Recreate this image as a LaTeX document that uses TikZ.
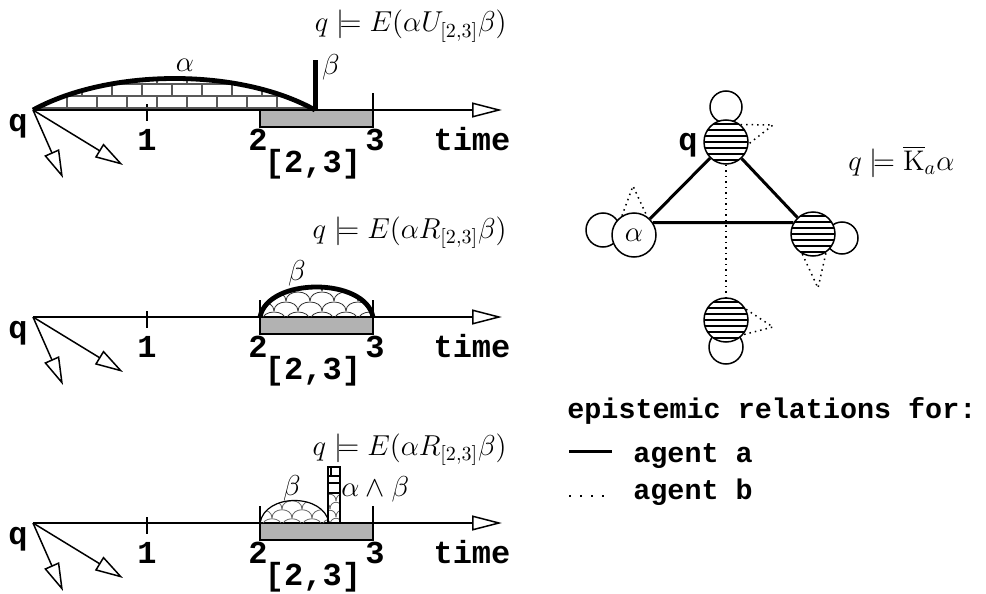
\documentclass[tikz,border=0pt]{standalone}
\usepackage{fontspec}
\setmonofont{Liberation Mono}
\usetikzlibrary{arrows.meta}
\begin{document}
\begin{tikzpicture}[x=0.5pt,y=-0.5pt,
  mono/.style={font=\fontsize{16}{19}\selectfont\ttfamily\bfseries, inner sep=0pt, anchor=base},
  legendtxt/.style={font=\fontsize{14.2}{17}\selectfont\ttfamily\bfseries, inner sep=0pt, anchor=base west},
  mathlbl/.style={font=\fontsize{14.2}{17}\selectfont, inner sep=0pt},
  axisline/.style={line width=1pt, -{Triangle[open,length=15pt,width=7.5pt,line width=0.75pt]}},
  branch/.style={line width=0.75pt, -{Triangle[open,length=14pt,width=8pt]}},
  tickline/.style={line width=1pt},
  interval/.style={draw, line width=1pt, fill=black!30},
  brick/.style={line width=0.8pt, black!65},
  fishscale/.style={line width=0.4pt, black!80},
  state/.style={circle, draw, line width=0.75pt, minimum size=22pt, inner sep=0pt, fill=white, font=\fontsize{14.2}{17}\selectfont},
  hatched/.style={state, path picture={
     \foreach \k in {-9,-6,...,9}{
       \draw[line width=1.1pt] ([yshift=\k*1pt]path picture bounding box.west) -- ([yshift=\k*1pt]path picture bounding box.east);}}},
  selfloop/.style={line width=0.75pt},
  relA/.style={line width=1.5pt},
  relB/.style={line width=0.75pt, dotted}
]
\useasboundingbox (0,0) rectangle (986,594);

% ---------- common parts of the three time lines ----------
\foreach \p/\Y in {1/110,2/317,3/523}{
  \coordinate (q\p) at (33,\Y);
  \coordinate (e\p) at (502,\Y);
  \coordinate (ba\p) at (63,\Y+68);
  \coordinate (bb\p) at (123,\Y+55);
  \draw[interval] (260,\Y) rectangle (373,\Y+17);
  \draw[tickline] (147,\Y-6) -- (147,\Y+11);
  \draw[tickline] (373,\Y-17) -- (373,\Y);
  \draw[axisline] (q\p) -- (e\p);
  \draw[branch] (q\p) -- (ba\p);
  \draw[branch] (q\p) -- (bb\p);
  \node[mono] (one\p) at (147,\Y+40) {1};
  \node[mono] (two\p) at (258,\Y+40) {2};
  \node[mono] (three\p) at (375,\Y+40) {3};
  \node[mono] (time\p) at (472,\Y+40) {time};
  \node[mono] (iv\p) at (313,\Y+62) {[2,3]};
  \node[mono] (ql\p) at (18,\Y+21) {q};
}

% ---------- panel 1 : until ----------
\begin{scope}
  \clip (33,110) .. controls (110,68) and (240,68) .. (315,110) -- cycle;
  \foreach \k/\off in {0/67,1/82,2/67,3/82}{
    \draw[brick] (33,108-12*\k) -- (315,108-12*\k);
    \foreach \j in {0,...,9}
      \draw[brick] (\off+30*\j,108-12*\k) -- (\off+30*\j,96-12*\k);
  }
\end{scope}
\coordinate (bz1) at (315,110);
\coordinate (bt1) at (315,60);
\draw[line width=2.4pt] (q1) .. controls (110,68) and (240,68) .. (bz1);
\draw[line width=2.5pt] (bz1) -- (bt1);
\node[mathlbl] (alpha1) at (185,65) {$\alpha$};
\node[mathlbl] (beta1) at (331,67) {$\beta$};
\node[mathlbl, anchor=base east] (f1) at (507,32) {$q \models E(\alpha U_{[2,3]}\beta)$};

% ---------- panel 2 : release ----------
\draw[tickline] (260,300) -- (260,317);
\begin{scope}
  \clip (260,317) .. controls (268,277) and (365,277) .. (373,317) -- cycle;
  \foreach \r in {0,...,4}{
    \foreach \c in {0,...,6}{
      \pgfmathsetmacro\sx{250+24*\c+12*mod(\r,2)}
      \pgfmathsetmacro\sy{321-10*\r}
      \draw[fishscale] (\sx-12,\sy) .. controls (\sx-12,\sy-12) and (\sx+12,\sy-12) .. (\sx+12,\sy);
    }
  }
\end{scope}
\coordinate (ra2) at (260,317);
\coordinate (rb2) at (373,317);
\draw[line width=2.4pt] (ra2) .. controls (268,277) and (365,277) .. (rb2);
\node[mathlbl] (beta2) at (297,273) {$\beta$};
\node[mathlbl, anchor=base east] (f2) at (507,238) {$q \models E(\alpha R_{[2,3]}\beta)$};

% ---------- panel 3 : release, beta until alpha and beta ----------
\draw[tickline] (260,506) -- (260,523);
\begin{scope}
  \clip (260,523) .. controls (265,493) and (324,493) .. (329,523) -- cycle;
  \foreach \r in {0,...,3}{
    \foreach \c in {0,...,4}{
      \pgfmathsetmacro\sx{252+20*\c+10*mod(\r,2)}
      \pgfmathsetmacro\sy{527-9*\r}
      \draw[fishscale, black!60] (\sx-10,\sy) .. controls (\sx-10,\sy-11) and (\sx+10,\sy-11) .. (\sx+10,\sy);
    }
  }
\end{scope}
\begin{scope}
  \clip (328,493) rectangle (340,523);
  \foreach \r in {0,...,4}{
    \foreach \c in {0,...,2}{
      \pgfmathsetmacro\sx{324+12*\c+6*mod(\r,2)}
      \pgfmathsetmacro\sy{525-8*\r}
      \draw[fishscale, black!60] (\sx-6,\sy) .. controls (\sx-6,\sy-9) and (\sx+6,\sy-9) .. (\sx+6,\sy);
    }
  }
\end{scope}
\draw[line width=0.6pt] (328,476) -- (340,476);
\draw[line width=0.6pt] (328,483) -- (340,483);
\draw[line width=0.6pt] (328,493) -- (340,493);
\draw[line width=0.6pt] (331,467) -- (331,476);
\draw[line width=0.9pt] (328,467) rectangle (340,523);
\coordinate (ra3) at (260,523);
\coordinate (rb3) at (329,523);
\draw[line width=0.6pt] (ra3) .. controls (265,493) and (324,493) .. (rb3);
\node[mathlbl] (beta3) at (292,488) {$\beta$};
\node[mathlbl, anchor=west] (ab3) at (341,489) {$\alpha\wedge\beta$};
\node[mathlbl, anchor=base east] (f3) at (507,455) {$q \models E(\alpha R_{[2,3]}\beta)$};

% ---------- epistemic model ----------
\draw[selfloop] (726,107) circle[radius=8pt];
\draw[selfloop] (603,230) circle[radius=8.5pt];
\draw[selfloop] (842,238) circle[radius=8pt];
\draw[selfloop] (726,347) circle[radius=8.5pt];

\node[hatched] (nq) at (726,142) {};
\node[state] (na) at (634,235) {$\alpha$};
\node[hatched] (nr) at (813,234) {};
\node[hatched] (nb) at (726,320) {};

\draw[relA] (nq) -- (na);
\draw[relA] (nq) -- (nr);
\draw[relA] (na.33) -- (nr.150);
\draw[relB] (nq) -- (nb);

\coordinate (tq) at (773,125);
\coordinate (ta) at (633,186);
\coordinate (tr) at (818,288);
\coordinate (tb) at (773,327);
\draw[relB] (nq.50) -- (tq) -- (nq.-5);
\draw[relB] (na.122) -- (ta) -- (na.55);
\draw[relB] (nr.-118) -- (tr) -- (nr.-55);
\draw[relB] (nb.28) -- (tb) -- (nb.-40);

\node[mono] (qg) at (688,150) {q};
\node[mathlbl, anchor=base west] (kf) at (848,170) {$q \models \overline{\mathrm{K}}_a\alpha$};

% ---------- legend ----------
\node[legendtxt] (lt) at (567,418) {epistemic relations for:};
\coordinate (la0) at (569,451);
\coordinate (la1) at (612,451);
\draw[relA] (la0) -- (la1);
\node[legendtxt] (la) at (633,462) {agent a};
\coordinate (lb0) at (569,496);
\coordinate (lb1) at (612,496);
\draw[line width=0.9pt, dash pattern=on 0.9pt off 4.6pt] (lb0) -- (lb1);
\node[legendtxt] (lb) at (633,499) {agent b};
\end{tikzpicture}
\end{document}
